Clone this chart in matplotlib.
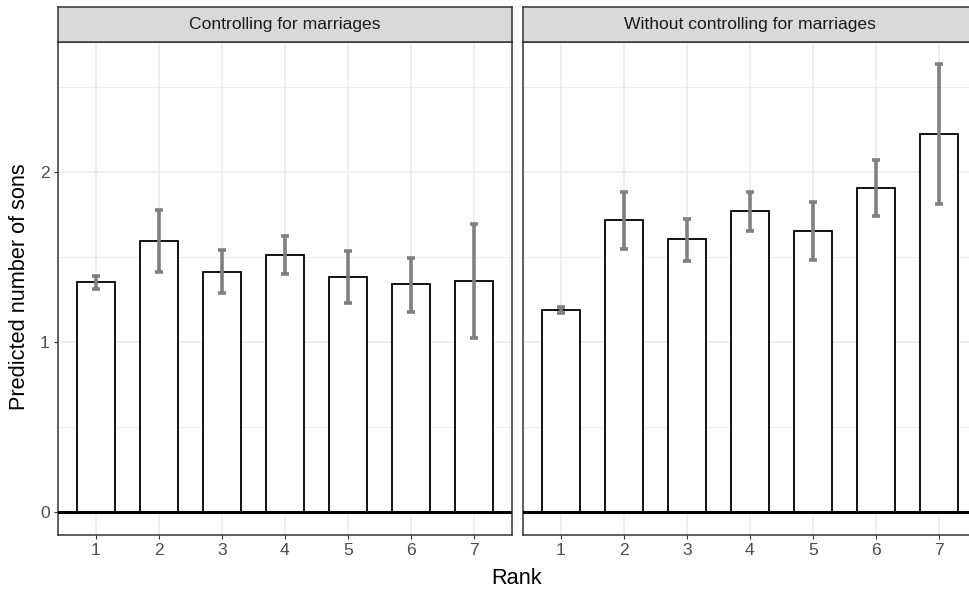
import matplotlib
matplotlib.use("Agg")
import matplotlib.pyplot as plt
import numpy as np

plt.rcParams['font.family'] = ['Liberation Sans', 'DejaVu Sans']

# data
ranks = [1, 2, 3, 4, 5, 6, 7]
panels = ["Controlling for marriages", "Without controlling for marriages"]
ctrl_mean = [1.353, 1.598, 1.414, 1.514, 1.386, 1.341, 1.361]
ctrl_low = [1.314, 1.414, 1.288, 1.400, 1.233, 1.180, 1.025]
ctrl_high = [1.392, 1.778, 1.544, 1.625, 1.539, 1.498, 1.694]
noctrl_mean = [1.190, 1.719, 1.606, 1.771, 1.656, 1.906, 2.225]
noctrl_low = [1.170, 1.551, 1.478, 1.656, 1.482, 1.743, 1.812]
noctrl_high = [1.210, 1.886, 1.725, 1.882, 1.825, 2.071, 2.637]

W, H = 970, 594
fig = plt.figure(figsize=(W / 100, H / 100), dpi=100)

def px_axes(x0, y0, x1, y1):
    # pixel box (top-left origin) -> figure axes
    return fig.add_axes([x0 / W, 1 - y1 / H, (x1 - x0) / W, (y1 - y0) / H])

border = '#333333'
lefts = [58, 523]
width = 454
data = [(ctrl_mean, ctrl_low, ctrl_high), (noctrl_mean, noctrl_low, noctrl_high)]

for i, (mean, low, high) in enumerate(data):
    x0 = lefts[i]
    ax = px_axes(x0, 42, x0 + width, 535)
    mean = np.array(mean)
    yerr = [mean - np.array(low), np.array(high) - mean]
    ax.set_axisbelow(True)
    ax.bar(ranks, mean, width=0.6, color='white', edgecolor='black', linewidth=1.3, zorder=2)
    ax.errorbar(ranks, mean, yerr=yerr, fmt='none', ecolor='#808080', elinewidth=2.6,
                capsize=3, capthick=2.6, zorder=3)
    ax.axhline(0, color='black', lw=2.2, zorder=4)
    ax.set_xlim(0.4, 7.6)
    ax.set_ylim(-0.134, 2.767)
    ax.set_xticks(ranks)
    ax.set_yticks([0, 1, 2])
    ax.set_yticks([0.5, 1.5, 2.5], minor=True)
    ax.grid(True, which='major', color='#EBEBEB', lw=1.1)
    ax.grid(True, which='minor', axis='y', color='#EBEBEB', lw=0.6)
    ax.tick_params(which='minor', length=0)
    ax.tick_params(which='major', length=3, color=border, width=0.8,
                   labelsize=12.6, labelcolor='#4D4D4D', pad=3)
    for s in ax.spines.values():
        s.set_color(border)
        s.set_linewidth(1.1)
    if i == 1:
        ax.set_yticklabels([])
        ax.tick_params(axis='y', length=0)

    # facet strip
    st = px_axes(x0, 7, x0 + width, 42)
    st.set_facecolor('#D9D9D9')
    st.set_xticks([])
    st.set_yticks([])
    for s in st.spines.values():
        s.set_color(border)
        s.set_linewidth(1.1)
    st.text(0.5, 0.5, panels[i], ha='center', va='center', fontsize=12.6,
            color='#1A1A1A', transform=st.transAxes)

fig.text(20 / W, 1 - 287 / H, "Predicted number of sons", rotation=90,
         ha='center', va='center', fontsize=15.7)
fig.text(517 / W, 1 - 578 / H, "Rank", ha='center', va='center', fontsize=15.7)

fig.savefig("out.png", dpi=100)
